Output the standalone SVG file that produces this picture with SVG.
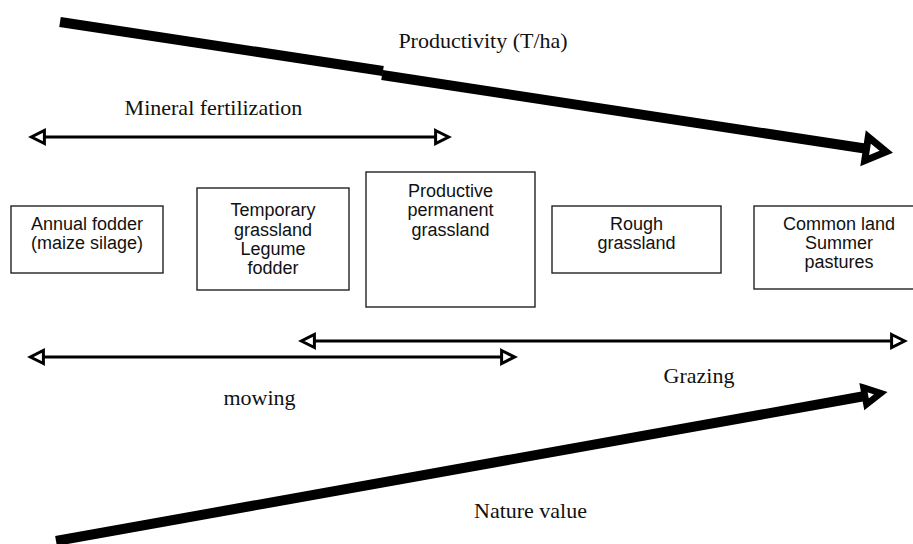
<svg xmlns="http://www.w3.org/2000/svg" width="913" height="544" viewBox="0 0 913 544">
  <style>
    .box { fill: #fff; stroke: #222; stroke-width: 1.4; }
    .bt { font-family: "Liberation Sans", Arial, sans-serif; font-size: 18px; fill: #111; text-anchor: middle; }
    .lbl { font-family: "Liberation Serif", "Times New Roman", serif; font-size: 22px; fill: #111; text-anchor: middle; }
    .thin { stroke: #000; stroke-width: 3; fill: none; }
    .thick { stroke: #000; stroke-width: 10; fill: none; stroke-linecap: butt; }
  </style>
  <defs>
    <marker id="headThin" markerUnits="userSpaceOnUse" orient="auto-start-reverse" refX="0" refY="0" markerWidth="20" markerHeight="20" overflow="visible">
      <path d="M0,-6.5 L13,0 L0,6.5 Z" fill="#fff" stroke="#000" stroke-width="3" stroke-linejoin="miter"/>
    </marker>
    <marker id="headTop" markerUnits="userSpaceOnUse" orient="auto" refX="0" refY="0" markerWidth="40" markerHeight="40" overflow="visible">
      <path d="M0,-12 L20,0 L0,12 Z" fill="#fff" stroke="#000" stroke-width="7" stroke-linejoin="miter"/>
    </marker>
    <marker id="headBottom" markerUnits="userSpaceOnUse" orient="auto" refX="0" refY="0" markerWidth="40" markerHeight="40" overflow="visible">
      <path d="M0,-8.5 L16,0 L0,8.5 Z" fill="#fff" stroke="#000" stroke-width="6.5" stroke-linejoin="miter"/>
    </marker>
  </defs>
  <rect width="913" height="544" fill="#fff"/>

  <g id="connectors">
    <line class="thick" x1="60" y1="22" x2="383" y2="71"/>
    <line class="thick" x1="382" y1="75" x2="866.5" y2="148.8" marker-end="url(#headTop)"/>
    <line class="thick" x1="56" y1="541" x2="865" y2="396" marker-end="url(#headBottom)"/>
    <line class="thin" x1="44.4" y1="137" x2="435.6" y2="137" marker-start="url(#headThin)" marker-end="url(#headThin)"/>
    <line class="thin" x1="314.4" y1="341" x2="891.6" y2="341" marker-start="url(#headThin)" marker-end="url(#headThin)"/>
    <line class="thin" x1="43.4" y1="357" x2="501.6" y2="357" marker-start="url(#headThin)" marker-end="url(#headThin)"/>
  </g>

  <g id="labels">
    <text class="lbl" x="483" y="48">Productivity (T/ha)</text>
    <text class="lbl" x="213.5" y="115">Mineral fertilization</text>
    <text class="lbl" x="259.5" y="405">mowing</text>
    <text class="lbl" x="699" y="383">Grazing</text>
    <text class="lbl" x="530.5" y="518">Nature value</text>
  </g>

  <g id="node-annual-fodder">
    <rect class="box" x="11" y="206" width="152" height="67"/>
    <text class="bt" x="87" y="230">Annual fodder</text>
    <text class="bt" x="87" y="249">(maize silage)</text>
  </g>

  <g id="node-temporary-grassland">
    <rect class="box" x="197" y="188" width="152" height="102"/>
    <text class="bt" x="273" y="216">Temporary</text>
    <text class="bt" x="273" y="236">grassland</text>
    <text class="bt" x="273" y="255">Legume</text>
    <text class="bt" x="273" y="274">fodder</text>
  </g>

  <g id="node-productive-permanent-grassland">
    <rect class="box" x="366" y="172" width="169" height="135"/>
    <text class="bt" x="450.5" y="197">Productive</text>
    <text class="bt" x="450.5" y="216">permanent</text>
    <text class="bt" x="450.5" y="236">grassland</text>
  </g>

  <g id="node-rough-grassland">
    <rect class="box" x="552" y="206" width="169" height="67"/>
    <text class="bt" x="636.5" y="230">Rough</text>
    <text class="bt" x="636.5" y="249">grassland</text>
  </g>

  <g id="node-common-land">
    <rect class="box" x="754" y="206" width="170" height="83"/>
    <text class="bt" x="839" y="230">Common land</text>
    <text class="bt" x="839" y="249">Summer</text>
    <text class="bt" x="839" y="268">pastures</text>
  </g>
</svg>
